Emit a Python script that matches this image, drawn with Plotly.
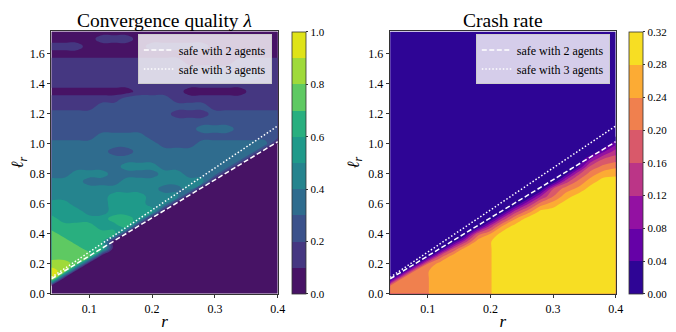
import plotly.graph_objects as go

# grid of the two maps: r along x, l_r along y (rows from l=0.00 up to 1.75)
r_vals = [0.04, 0.06, 0.08, 0.10, 0.12, 0.14, 0.16, 0.18, 0.20, 0.22,
          0.24, 0.26, 0.28, 0.30, 0.32, 0.34, 0.36, 0.38, 0.40]
ell_vals = [0.00, 0.05, 0.10, 0.15, 0.20, 0.25, 0.30, 0.35, 0.40, 0.45,
            0.50, 0.55, 0.60, 0.65, 0.70, 0.75, 0.80, 0.85, 0.90, 0.95,
            1.00, 1.05, 1.10, 1.15, 1.20, 1.25, 1.30, 1.35, 1.40, 1.45,
            1.50, 1.55, 1.60, 1.65, 1.70, 1.75]

# convergence quality lambda
lam_z = [
    [0, 0, 0, 0, 0, 0, 0, 0, 0, 0, 0, 0, 0, 0, 0, 0, 0, 0, 0],
    [0, 0, 0, 0, 0, 0, 0, 0, 0, 0, 0, 0, 0, 0, 0, 0, 0, 0, 0],
    [0.95, 0, 0, 0, 0, 0, 0, 0, 0, 0, 0, 0, 0, 0, 0, 0, 0, 0, 0],
    [0.95, 0.85, 0, 0, 0, 0, 0, 0, 0, 0, 0, 0, 0, 0, 0, 0, 0, 0, 0],
    [0.85, 0.85, 0.75, 0, 0, 0, 0, 0, 0, 0, 0, 0, 0, 0, 0, 0, 0, 0, 0],
    [0.75, 0.75, 0.75, 0.75, 0, 0, 0, 0, 0, 0, 0, 0, 0, 0, 0, 0, 0, 0, 0],
    [0.75, 0.75, 0.75, 0.65, 0.65, 0, 0, 0, 0, 0, 0, 0, 0, 0, 0, 0, 0, 0, 0],
    [0.75, 0.75, 0.65, 0.65, 0.65, 0, 0, 0, 0, 0, 0, 0, 0, 0, 0, 0, 0, 0, 0],
    [0.75, 0.65, 0.65, 0.65, 0.65, 0.65, 0, 0, 0, 0, 0, 0, 0, 0, 0, 0, 0, 0, 0],
    [0.65, 0.65, 0.65, 0.65, 0.55, 0.55, 0.65, 0, 0, 0, 0, 0, 0, 0, 0, 0, 0, 0, 0],
    [0.65, 0.55, 0.55, 0.55, 0.55, 0.65, 0.65, 0.55, 0, 0, 0, 0, 0, 0, 0, 0, 0, 0, 0],
    [0.55, 0.55, 0.55, 0.45, 0.45, 0.55, 0.55, 0.55, 0.55, 0, 0, 0, 0, 0, 0, 0, 0, 0, 0],
    [0.55, 0.55, 0.45, 0.45, 0.45, 0.55, 0.55, 0.55, 0.45, 0.45, 0, 0, 0, 0, 0, 0, 0, 0, 0],
    [0.45, 0.45, 0.45, 0.45, 0.45, 0.55, 0.55, 0.55, 0.45, 0.45, 0.45, 0, 0, 0, 0, 0, 0, 0, 0],
    [0.45, 0.45, 0.45, 0.45, 0.45, 0.45, 0.45, 0.45, 0.45, 0.35, 0.35, 0.45, 0, 0, 0, 0, 0, 0, 0],
    [0.45, 0.45, 0.45, 0.35, 0.35, 0.35, 0.45, 0.45, 0.45, 0.45, 0.45, 0.45, 0.45, 0, 0, 0, 0, 0, 0],
    [0.35, 0.35, 0.45, 0.45, 0.45, 0.35, 0.35, 0.35, 0.35, 0.45, 0.45, 0.35, 0.35, 0.35, 0, 0, 0, 0, 0],
    [0.35, 0.35, 0.35, 0.35, 0.35, 0.35, 0.45, 0.45, 0.45, 0.35, 0.35, 0.35, 0.35, 0.35, 0.35, 0, 0, 0, 0],
    [0.35, 0.35, 0.35, 0.35, 0.35, 0.35, 0.35, 0.35, 0.35, 0.35, 0.35, 0.35, 0.35, 0.35, 0.35, 0.35, 0, 0, 0],
    [0.35, 0.35, 0.35, 0.35, 0.35, 0.25, 0.25, 0.35, 0.35, 0.35, 0.35, 0.35, 0.35, 0.35, 0.35, 0.35, 0.35, 0, 0],
    [0.35, 0.35, 0.35, 0.35, 0.35, 0.35, 0.35, 0.35, 0.35, 0.25, 0.25, 0.25, 0.35, 0.35, 0.35, 0.35, 0.35, 0.35, 0],
    [0.25, 0.25, 0.25, 0.25, 0.35, 0.35, 0.35, 0.35, 0.25, 0.25, 0.25, 0.25, 0.25, 0.25, 0.25, 0.25, 0.25, 0.25, 0.25],
    [0.25, 0.25, 0.25, 0.25, 0.25, 0.25, 0.25, 0.25, 0.25, 0.25, 0.25, 0.25, 0.35, 0.35, 0.35, 0.25, 0.25, 0.25, 0.25],
    [0.25, 0.25, 0.25, 0.25, 0.25, 0.25, 0.25, 0.25, 0.25, 0.25, 0.25, 0.25, 0.25, 0.25, 0.25, 0.25, 0.25, 0.25, 0.25],
    [0.25, 0.25, 0.25, 0.25, 0.25, 0.25, 0.25, 0.25, 0.25, 0.25, 0.15, 0.15, 0.15, 0.25, 0.25, 0.25, 0.25, 0.25, 0.25],
    [0.15, 0.15, 0.15, 0.15, 0.25, 0.25, 0.25, 0.25, 0.25, 0.25, 0.25, 0.25, 0.25, 0.15, 0.15, 0.15, 0.15, 0.15, 0.15],
    [0.15, 0.15, 0.15, 0.15, 0.15, 0.15, 0.25, 0.25, 0.25, 0.25, 0.15, 0.15, 0.15, 0.15, 0.15, 0.15, 0.15, 0.15, 0.15],
    [0.05, 0.05, 0.05, 0.05, 0.05, 0.05, 0.05, 0.15, 0.15, 0.15, 0.15, 0.05, 0.05, 0.05, 0.05, 0.05, 0.15, 0.15, 0.15],
    [0.15, 0.15, 0.15, 0.15, 0.15, 0.15, 0.15, 0.15, 0.15, 0.15, 0.15, 0.15, 0.15, 0.15, 0.15, 0.15, 0.15, 0.15, 0.15],
    [0.15, 0.15, 0.15, 0.15, 0.15, 0.15, 0.15, 0.15, 0.15, 0.15, 0.15, 0.15, 0.15, 0.25, 0.25, 0.25, 0.25, 0.15, 0.15],
    [0.15, 0.15, 0.15, 0.15, 0.15, 0.15, 0.15, 0.15, 0.15, 0.15, 0.15, 0.15, 0.15, 0.15, 0.15, 0.15, 0.15, 0.15, 0.15],
    [0.15, 0.15, 0.15, 0.15, 0.15, 0.15, 0.15, 0.15, 0.15, 0.15, 0.15, 0.05, 0.05, 0.05, 0.05, 0.15, 0.15, 0.15, 0.15],
    [0.05, 0.05, 0.05, 0.05, 0.05, 0.05, 0.05, 0.05, 0.05, 0.05, 0.05, 0.05, 0.05, 0.05, 0.05, 0.05, 0.05, 0.05, 0.05],
    [0.15, 0.15, 0.15, 0.05, 0.05, 0.05, 0.05, 0.05, 0.15, 0.15, 0.15, 0.15, 0.15, 0.05, 0.05, 0.05, 0.05, 0.05, 0.05],
    [0.05, 0.05, 0.05, 0.05, 0.15, 0.15, 0.15, 0.05, 0.05, 0.05, 0.05, 0.05, 0.05, 0.05, 0.05, 0.05, 0.05, 0.05, 0.05],
    [0.05, 0.05, 0.05, 0.05, 0.05, 0.05, 0.05, 0.05, 0.05, 0.05, 0.05, 0.05, 0.05, 0.05, 0.05, 0.05, 0.05, 0.05, 0.05],
]

# crash rate
crash_z = [
    [0.22, 0.22, 0.22, 0.238, 0.26, 0.26, 0.26, 0.26, 0.278, 0.30, 0.30, 0.30, 0.30, 0.30, 0.30, 0.30, 0.30, 0.30, 0.30],
    [0.22, 0.22, 0.22, 0.238, 0.26, 0.26, 0.26, 0.26, 0.278, 0.30, 0.30, 0.30, 0.30, 0.30, 0.30, 0.30, 0.30, 0.30, 0.30],
    [0, 0.22, 0.22, 0.238, 0.26, 0.26, 0.26, 0.26, 0.278, 0.30, 0.30, 0.30, 0.30, 0.30, 0.30, 0.30, 0.30, 0.30, 0.30],
    [0, 0, 0.22, 0.238, 0.26, 0.26, 0.26, 0.26, 0.278, 0.30, 0.30, 0.30, 0.30, 0.30, 0.30, 0.30, 0.30, 0.30, 0.30],
    [0, 0, 0, 0.20, 0.26, 0.26, 0.26, 0.26, 0.278, 0.30, 0.30, 0.30, 0.30, 0.30, 0.30, 0.30, 0.30, 0.30, 0.30],
    [0, 0, 0, 0, 0.18, 0.26, 0.26, 0.26, 0.278, 0.30, 0.30, 0.30, 0.30, 0.30, 0.30, 0.30, 0.30, 0.30, 0.30],
    [0, 0, 0, 0, 0, 0.16, 0.26, 0.26, 0.278, 0.30, 0.30, 0.30, 0.30, 0.30, 0.30, 0.30, 0.30, 0.30, 0.30],
    [0, 0, 0, 0, 0, 0, 0.14, 0.26, 0.278, 0.30, 0.30, 0.30, 0.30, 0.30, 0.30, 0.30, 0.30, 0.30, 0.30],
    [0, 0, 0, 0, 0, 0, 0, 0.18, 0.24, 0.30, 0.30, 0.30, 0.30, 0.30, 0.30, 0.30, 0.30, 0.30, 0.30],
    [0, 0, 0, 0, 0, 0, 0, 0, 0.14, 0.25, 0.30, 0.30, 0.30, 0.30, 0.30, 0.30, 0.30, 0.30, 0.30],
    [0, 0, 0, 0, 0, 0, 0, 0, 0, 0.14, 0.24, 0.30, 0.30, 0.30, 0.30, 0.30, 0.30, 0.30, 0.30],
    [0, 0, 0, 0, 0, 0, 0, 0, 0, 0, 0.14, 0.22, 0.29, 0.30, 0.30, 0.30, 0.30, 0.30, 0.30],
    [0, 0, 0, 0, 0, 0, 0, 0, 0, 0, 0, 0.12, 0.22, 0.26, 0.30, 0.30, 0.30, 0.30, 0.30],
    [0, 0, 0, 0, 0, 0, 0, 0, 0, 0, 0, 0, 0.12, 0.20, 0.26, 0.30, 0.30, 0.30, 0.30],
    [0, 0, 0, 0, 0, 0, 0, 0, 0, 0, 0, 0, 0, 0.16, 0.22, 0.25, 0.30, 0.30, 0.30],
    [0, 0, 0, 0, 0, 0, 0, 0, 0, 0, 0, 0, 0, 0, 0.14, 0.21, 0.26, 0.30, 0.30],
    [0, 0, 0, 0, 0, 0, 0, 0, 0, 0, 0, 0, 0, 0, 0.02, 0.15, 0.22, 0.26, 0.27],
    [0, 0, 0, 0, 0, 0, 0, 0, 0, 0, 0, 0, 0, 0, 0, 0.03, 0.17, 0.21, 0.23],
    [0, 0, 0, 0, 0, 0, 0, 0, 0, 0, 0, 0, 0, 0, 0, 0, 0.08, 0.16, 0.18],
    [0, 0, 0, 0, 0, 0, 0, 0, 0, 0, 0, 0, 0, 0, 0, 0, 0, 0.07, 0.14],
    [0, 0, 0, 0, 0, 0, 0, 0, 0, 0, 0, 0, 0, 0, 0, 0, 0, 0, 0.07],
    [0, 0, 0, 0, 0, 0, 0, 0, 0, 0, 0, 0, 0, 0, 0, 0, 0, 0, 0],
    [0, 0, 0, 0, 0, 0, 0, 0, 0, 0, 0, 0, 0, 0, 0, 0, 0, 0, 0],
    [0, 0, 0, 0, 0, 0, 0, 0, 0, 0, 0, 0, 0, 0, 0, 0, 0, 0, 0],
    [0, 0, 0, 0, 0, 0, 0, 0, 0, 0, 0, 0, 0, 0, 0, 0, 0, 0, 0],
    [0, 0, 0, 0, 0, 0, 0, 0, 0, 0, 0, 0, 0, 0, 0, 0, 0, 0, 0],
    [0, 0, 0, 0, 0, 0, 0, 0, 0, 0, 0, 0, 0, 0, 0, 0, 0, 0, 0],
    [0, 0, 0, 0, 0, 0, 0, 0, 0, 0, 0, 0, 0, 0, 0, 0, 0, 0, 0],
    [0, 0, 0, 0, 0, 0, 0, 0, 0, 0, 0, 0, 0, 0, 0, 0, 0, 0, 0],
    [0, 0, 0, 0, 0, 0, 0, 0, 0, 0, 0, 0, 0, 0, 0, 0, 0, 0, 0],
    [0, 0, 0, 0, 0, 0, 0, 0, 0, 0, 0, 0, 0, 0, 0, 0, 0, 0, 0],
    [0, 0, 0, 0, 0, 0, 0, 0, 0, 0, 0, 0, 0, 0, 0, 0, 0, 0, 0],
    [0, 0, 0, 0, 0, 0, 0, 0, 0, 0, 0, 0, 0, 0, 0, 0, 0, 0, 0],
    [0, 0, 0, 0, 0, 0, 0, 0, 0, 0, 0, 0, 0, 0, 0, 0, 0, 0, 0],
    [0, 0, 0, 0, 0, 0, 0, 0, 0, 0, 0, 0, 0, 0, 0, 0, 0, 0, 0],
    [0, 0, 0, 0, 0, 0, 0, 0, 0, 0, 0, 0, 0, 0, 0, 0, 0, 0, 0],
]

# safety lines
safe_r = [0.04, 0.40]
safe2_ell = [0.10, 1.015]
safe3_ell = [0.11, 1.12]

lam_ticks = [0.0, 0.2, 0.4, 0.6, 0.8, 1.0]
crash_ticks = [0.00, 0.04, 0.08, 0.12, 0.16, 0.20, 0.24, 0.28, 0.32]
r_ticks = [0.1, 0.2, 0.3, 0.4]
ell_ticks = [0.0, 0.2, 0.4, 0.6, 0.8, 1.0, 1.2, 1.4, 1.6]

# band colours (viridis / plasma sampled at band centres)
lam_colors = ['#471365', '#453781', '#3b528b', '#2f6c8e', '#25848e',
              '#1f9a8a', '#29af7f', '#5ec962', '#9fda3a', '#dfe318']
crash_colors = ['#2e0595', '#6501a7', '#9311a2', '#bb3587',
                '#d9596a', '#f0804e', '#fcab34', '#f7de23']

W, H = 676, 332
FONT = 'Liberation Serif'
AX = '#333333'


def step_scale(colors):
    n = len(colors)
    out = []
    for i, c in enumerate(colors):
        out.append([i / n, c])
        out.append([(i + 1) / n, c])
    return out


def cbar(x0, ticks, fmt):
    return dict(x=x0 / W, xanchor='left', xpad=0, y=40 / H, yanchor='bottom',
                ypad=0, len=268 / H, lenmode='fraction', thickness=14,
                outlinewidth=0.8, outlinecolor=AX, ticks='outside', ticklen=2.5,
                tickwidth=0.8, tickcolor=AX, tickvals=ticks, tickformat=fmt,
                tickfont=dict(family=FONT, size=11, color='black'))


fig = go.Figure()

fig.add_trace(go.Contour(
    x=r_vals, y=ell_vals, z=lam_z, xaxis='x', yaxis='y',
    zmin=0, zmax=1, autocontour=False,
    contours=dict(start=0, end=1, size=0.1, coloring='fill', showlines=False),
    colorscale=step_scale(lam_colors), line=dict(width=0, smoothing=1.3),
    colorbar=cbar(287, lam_ticks, '.1f')))

fig.add_trace(go.Contour(
    x=r_vals, y=ell_vals, z=crash_z, xaxis='x2', yaxis='y2',
    zmin=0, zmax=0.32, autocontour=False,
    contours=dict(start=0, end=0.32, size=0.04, coloring='fill', showlines=False),
    colorscale=step_scale(crash_colors), line=dict(width=0),
    colorbar=cbar(628, crash_ticks, '.2f')))

for xa, ya, lg in [('x', 'y', 'legend'), ('x2', 'y2', 'legend2')]:
    fig.add_trace(go.Scatter(
        x=safe_r, y=safe2_ell, mode='lines', name='safe with 2 agents',
        line=dict(color='white', width=1.5, dash='5px,2.5px'),
        xaxis=xa, yaxis=ya, legend=lg))
    fig.add_trace(go.Scatter(
        x=safe_r, y=safe3_ell, mode='lines', name='safe with 3 agents',
        line=dict(color='white', width=1.5, dash='1.5px,2px'),
        xaxis=xa, yaxis=ya, legend=lg))

xcommon = dict(range=[0.04, 0.4], tickvals=r_ticks, tickformat='.1f',
               ticks='outside', ticklen=3.5, tickwidth=0.8, tickcolor=AX,
               showline=True, linecolor=AX, linewidth=0.8, mirror=True,
               showgrid=False, zeroline=False,
               tickfont=dict(family=FONT, size=12, color='black'),
               title=dict(text='<i>r</i>', font=dict(family=FONT, size=17), standoff=0))
ycommon = dict(range=[0, 1.75], tickvals=ell_ticks, tickformat='.1f',
               ticks='outside', ticklen=3.5, tickwidth=0.8, tickcolor=AX,
               showline=True, linecolor=AX, linewidth=0.8, mirror=True,
               showgrid=False, zeroline=False,
               tickfont=dict(family=FONT, size=12, color='black'),
               title=dict(text='<i>ℓ</i><sub><i>r</i></sub>',
                          font=dict(family=FONT, size=17), standoff=4))

ydom = [40 / H, 308 / H]
legend_style = dict(yanchor='top', y=1 - 27 / H, xanchor='right',
                    bgcolor='rgba(255,255,255,0.8)', bordercolor='#cccccc',
                    borderwidth=1, font=dict(family=FONT, size=12, color='black'),
                    tracegroupgap=0, itemwidth=30)

fig.update_layout(
    width=W, height=H,
    margin=dict(l=0, r=0, t=0, b=0),
    paper_bgcolor='white', plot_bgcolor='white',
    font=dict(family=FONT, color='black'),
    xaxis=dict(domain=[44 / W, 273 / W], anchor='y', **xcommon),
    yaxis=dict(domain=ydom, anchor='x', **ycommon),
    xaxis2=dict(domain=[386.7 / W, 615 / W], anchor='y2', **xcommon),
    yaxis2=dict(domain=ydom, anchor='x2', **ycommon),
    legend=dict(x=267 / W, **legend_style),
    legend2=dict(x=609 / W, **legend_style),
    annotations=[
        dict(text='Convergence quality <i>λ</i>', x=158.5 / W, y=1 - 13 / H,
             xref='paper', yref='paper', xanchor='center', yanchor='middle',
             showarrow=False, borderpad=0, font=dict(family=FONT, size=19.5)),
        dict(text='Crash rate', x=500.8 / W, y=1 - 13 / H,
             xref='paper', yref='paper', xanchor='center', yanchor='middle',
             showarrow=False, borderpad=0, font=dict(family=FONT, size=19.5)),
    ],
)

fig.write_html("out.html")
